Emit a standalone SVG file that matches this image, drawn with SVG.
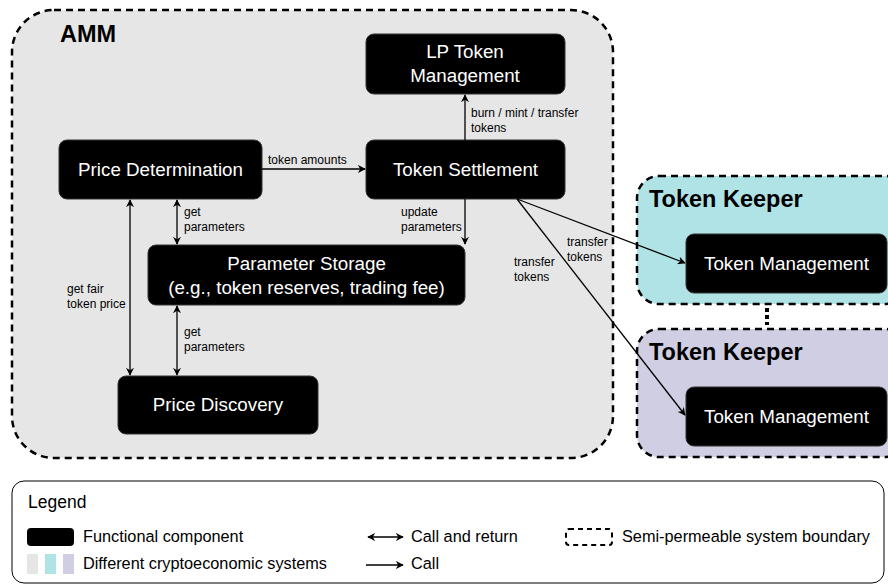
<svg xmlns="http://www.w3.org/2000/svg" width="888" height="585" viewBox="0 0 888 585">
<style>
text{font-family:"Liberation Sans",Arial,Helvetica,sans-serif}
.bd{stroke:#000;stroke-width:2.5;stroke-dasharray:7 5}
.node{fill:#000;stroke:#333;stroke-width:1}
.nt{fill:#fff;font-size:18.8px;text-anchor:middle}
.lbl{fill:#000;font-size:12px}
.title{font-size:23.5px;font-weight:bold;fill:#000}
.ln{stroke:#000;stroke-width:1.3;fill:none}
.lg{font-size:16.3px;fill:#000}
</style>
<defs>
<marker id="ah" viewBox="0 0 10 10" refX="9" refY="5" markerWidth="8" markerHeight="8" orient="auto-start-reverse" markerUnits="userSpaceOnUse">
<path d="M0,0 L10,5 L0,10 L3,5 z" fill="#000"/>
</marker>
</defs>

<g id="amm">
<rect x="12" y="10" width="601" height="448" rx="42" fill="#e6e6e6" class="bd"/>
<text x="60" y="42" class="title">AMM</text>
</g>
<g id="keeper1">
<rect x="637" y="176" width="270" height="128" rx="22" fill="#b0e3e6" class="bd"/>
<text x="649" y="207" class="title">Token Keeper</text>
</g>
<g id="keeper2">
<rect x="637" y="329" width="270" height="128" rx="22" fill="#d0cee2" class="bd"/>
<text x="649" y="360" class="title">Token Keeper</text>
</g>
<g id="dots">
<line x1="767" y1="308" x2="767" y2="325" stroke="#000" stroke-width="4" stroke-dasharray="4 3"/>
</g>

<g id="lp-token-management">
<rect x="366" y="34" width="199" height="60" rx="8" class="node"/>
<text x="465" y="58" class="nt">LP Token</text>
<text x="465" y="82" class="nt">Management</text>
</g>
<g id="price-determination">
<rect x="59" y="140" width="203" height="59" rx="8" class="node"/>
<text x="160.5" y="176" class="nt">Price Determination</text>
</g>
<g id="token-settlement">
<rect x="366" y="140" width="199" height="59" rx="8" class="node"/>
<text x="465.5" y="176" class="nt">Token Settlement</text>
</g>
<g id="parameter-storage">
<rect x="148" y="245" width="317" height="60" rx="8" class="node"/>
<text x="306.5" y="270" class="nt">Parameter Storage</text>
<text x="306.5" y="294" class="nt">(e.g., token reserves, trading fee)</text>
</g>
<g id="price-discovery">
<rect x="118" y="376" width="200" height="58" rx="8" class="node"/>
<text x="218" y="411" class="nt">Price Discovery</text>
</g>
<g id="token-management-1">
<rect x="686" y="234" width="201" height="59" rx="8" class="node"/>
<text x="786.5" y="270" class="nt">Token Management</text>
</g>
<g id="token-management-2">
<rect x="686" y="387" width="201" height="59" rx="8" class="node"/>
<text x="786.5" y="423" class="nt">Token Management</text>
</g>

<g id="connectors">
<line x1="262" y1="169" x2="365" y2="169" class="ln" marker-end="url(#ah)"/>
<text x="268" y="164" class="lbl">token amounts</text>
<line x1="465" y1="140" x2="465" y2="95" class="ln" marker-end="url(#ah)"/>
<text x="471" y="117" class="lbl">burn / mint / transfer</text>
<text x="471" y="132" class="lbl">tokens</text>
<line x1="465" y1="199" x2="465" y2="244" class="ln" marker-end="url(#ah)"/>
<text x="401" y="216" class="lbl">update</text>
<text x="401" y="231" class="lbl">parameters</text>
<line x1="177" y1="200" x2="177" y2="244" class="ln" marker-start="url(#ah)" marker-end="url(#ah)"/>
<text x="184" y="216" class="lbl">get</text>
<text x="184" y="231" class="lbl">parameters</text>
<line x1="130" y1="200" x2="130" y2="375" class="ln" marker-start="url(#ah)" marker-end="url(#ah)"/>
<text x="67" y="293" class="lbl">get fair</text>
<text x="67" y="308" class="lbl">token price</text>
<line x1="177" y1="306" x2="177" y2="375" class="ln" marker-start="url(#ah)" marker-end="url(#ah)"/>
<text x="184" y="336" class="lbl">get</text>
<text x="184" y="351" class="lbl">parameters</text>
<line x1="517" y1="199" x2="685" y2="263" class="ln" marker-end="url(#ah)"/>
<text x="567" y="246" class="lbl">transfer</text>
<text x="567" y="261" class="lbl">tokens</text>
<line x1="517" y1="199" x2="685" y2="415" class="ln" marker-end="url(#ah)"/>
<text x="514" y="266" class="lbl">transfer</text>
<text x="514" y="281" class="lbl">tokens</text>
</g>

<g id="legend">
<rect x="12" y="481" width="872" height="102" rx="12" fill="#fff" stroke="#000" stroke-width="1"/>
<text x="28" y="508" style="font-size:17.5px;fill:#000">Legend</text>
<rect x="27" y="528" width="47" height="18" rx="4" fill="#000"/>
<text x="83" y="542" class="lg">Functional component</text>
<rect x="27" y="554" width="11" height="20" fill="#e6e6e6"/>
<rect x="45" y="554" width="11" height="20" fill="#b0e3e6"/>
<rect x="63" y="554" width="11" height="20" fill="#d0cee2"/>
<text x="83" y="569" class="lg">Different cryptoeconomic systems</text>
<line x1="368" y1="537" x2="403" y2="537" class="ln" marker-start="url(#ah)" marker-end="url(#ah)"/>
<text x="411" y="542" class="lg">Call and return</text>
<line x1="366" y1="565" x2="403" y2="565" class="ln" marker-end="url(#ah)"/>
<text x="411" y="569" class="lg">Call</text>
<rect x="566" y="529" width="46" height="16" rx="3" fill="none" stroke="#000" stroke-width="2" stroke-dasharray="5 4"/>
<text x="622" y="542" class="lg">Semi-permeable system boundary</text>
</g>
</svg>
